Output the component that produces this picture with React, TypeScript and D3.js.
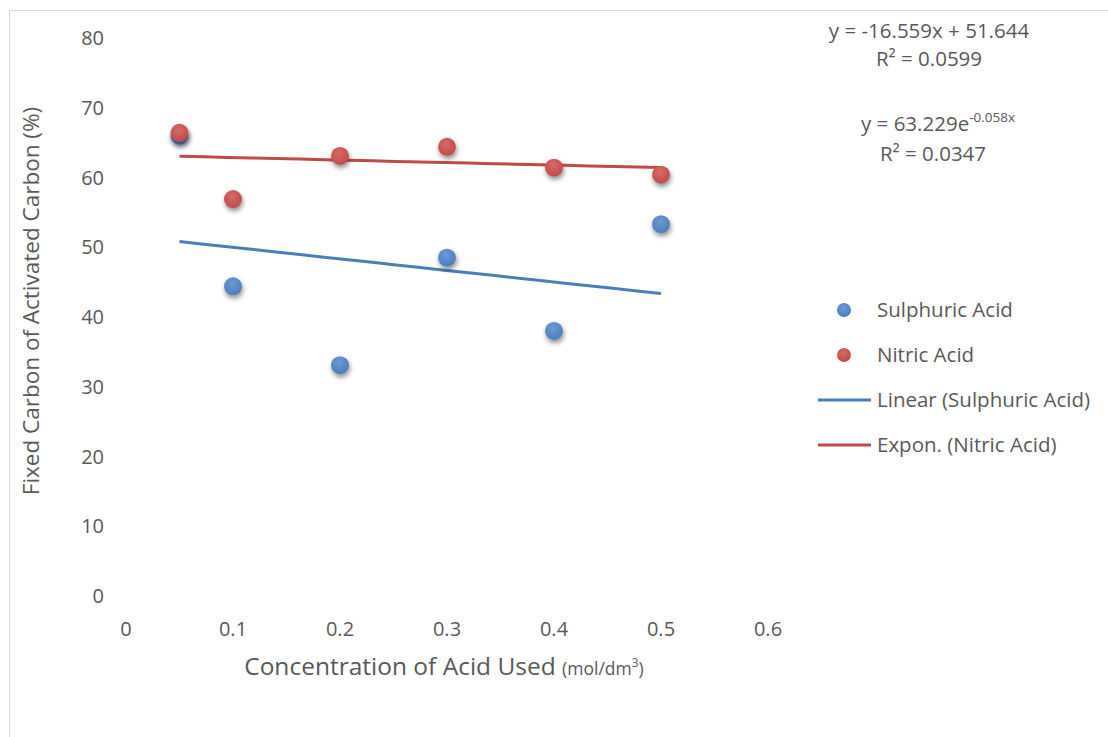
import React, { useEffect, useRef } from 'react';
import * as d3 from 'd3';

// concentrations (mol/dm3)
const concentrations = [0.05, 0.1, 0.2, 0.3, 0.4, 0.5];
const sulphuric = [66.0, 44.4, 33.1, 48.5, 38.0, 53.3];
const nitric = [66.4, 56.9, 63.1, 64.4, 61.4, 60.4];
// trendline coefficients as printed on the chart
const linearFit = { slope: -16.559, intercept: 51.644, r2: '0.0599' };
const expFit = { a: 63.229, b: -0.058, r2: '0.0347' };
const xTicks = [0, 0.1, 0.2, 0.3, 0.4, 0.5, 0.6];
const yTicks = [0, 10, 20, 30, 40, 50, 60, 70, 80];

const blue = '#4a7ebb';
const red = '#be4b48';
const textColor = '#595959';
const font = 'Open Sans, Noto Sans, sans-serif';

const W = 1108;
const H = 737;

export default function App() {
  const ref = useRef<SVGSVGElement>(null);

  useEffect(() => {
    const svg = d3.select(ref.current);
    svg.selectAll('*').remove();

    const x = d3.scaleLinear().domain([0, 0.6]).range([126, 768]);
    const y = d3.scaleLinear().domain([0, 80]).range([596, 38]);

    const defs = svg.append('defs');
    const f = defs.append('filter').attr('id', 'shadow')
      .attr('x', '-60%').attr('y', '-60%').attr('width', '220%').attr('height', '220%');
    f.append('feDropShadow').attr('dx', 1).attr('dy', 3).attr('stdDeviation', 2.5)
      .attr('flood-color', '#000').attr('flood-opacity', 0.45);

    [['g-blue', blue, '#6b9bd8'], ['g-red', red, '#d86a66']].forEach(([id, c, hi]) => {
      const g = defs.append('radialGradient').attr('id', id)
        .attr('cx', '45%').attr('cy', '35%').attr('r', '65%');
      g.append('stop').attr('offset', '0%').attr('stop-color', hi);
      g.append('stop').attr('offset', '100%').attr('stop-color', c);
    });

    // chart border
    svg.append('rect').attr('x', 9.5).attr('y', 10.5).attr('width', W + 20).attr('height', H + 20)
      .attr('fill', '#fff').attr('stroke', '#d9d9d9');

    // y ticks
    svg.append('g').selectAll('text').data(yTicks).enter().append('text')
      .attr('x', 104).attr('y', d => y(d)).attr('dy', '0.35em')
      .attr('text-anchor', 'end').attr('font-size', 20).attr('font-family', font)
      .attr('fill', textColor).text(d => d);

    // x ticks
    svg.append('g').selectAll('text').data(xTicks).enter().append('text')
      .attr('x', d => x(d)).attr('y', 629).attr('dy', '0.35em')
      .attr('text-anchor', 'middle').attr('font-size', 20).attr('font-family', font)
      .attr('fill', textColor).text(d => (d === 0 ? '0' : d3.format('.1f')(d)));

    // axis titles
    svg.append('text')
      .attr('transform', 'translate(39,301) rotate(-90)')
      .attr('text-anchor', 'middle').attr('font-size', 22.5).attr('font-family', font)
      .attr('fill', textColor).text('Fixed Carbon of Activated Carbon (%)');

    const xt = svg.append('text').attr('x', 444).attr('y', 675)
      .attr('text-anchor', 'middle').attr('font-family', font).attr('fill', textColor);
    xt.append('tspan').attr('font-size', 24.5).text('Concentration of Acid Used ');
    xt.append('tspan').attr('font-size', 17.5).text('(mol/dm');
    xt.append('tspan').attr('font-size', 12).attr('dy', -8).text('3');
    xt.append('tspan').attr('font-size', 17.5).attr('dy', 8).text(')');

    const x0 = concentrations[0];
    const x1 = concentrations[concentrations.length - 1];
    const xs = d3.range(0, 21).map(i => x0 + (x1 - x0) * i / 20);

    // trendlines
    const line = d3.line<number>().x(d => x(d));
    svg.append('path')
      .attr('d', line.y(d => y(linearFit.slope * d + linearFit.intercept))(xs))
      .attr('fill', 'none').attr('stroke', blue).attr('stroke-width', 3);
    svg.append('path')
      .attr('d', line.y(d => y(expFit.a * Math.exp(expFit.b * d)))(xs))
      .attr('fill', 'none').attr('stroke', red).attr('stroke-width', 3);

    // points
    const drawPts = (vals: number[], grad: string) => {
      svg.append('g').selectAll('circle').data(vals).enter().append('circle')
        .attr('cx', (d, i) => x(concentrations[i])).attr('cy', d => y(d)).attr('r', 9)
        .attr('fill', `url(#${grad})`).attr('filter', 'url(#shadow)');
    };
    drawPts(sulphuric, 'g-blue');
    drawPts(nitric, 'g-red');

    // equations
    const eq = svg.append('g').attr('font-family', font).attr('font-size', 20.5)
      .attr('fill', textColor).attr('text-anchor', 'middle');
    eq.append('text').attr('x', 929).attr('y', 38)
      .text(`y = ${linearFit.slope}x + ${linearFit.intercept}`);
    eq.append('text').attr('x', 929).attr('y', 66).text('R² = ' + linearFit.r2);
    const e2 = eq.append('text').attr('x', 938).attr('y', 131);
    e2.append('tspan').text(`y = ${expFit.a}e`);
    e2.append('tspan').attr('font-size', 13.5).attr('dy', -9).text(`${expFit.b}x`);
    eq.append('text').attr('x', 933).attr('y', 161).text('R² = ' + expFit.r2);

    // legend
    const lg = svg.append('g').attr('font-family', font).attr('font-size', 20.5).attr('fill', textColor);
    const items = [
      { label: 'Sulphuric Acid', color: blue, grad: 'g-blue', kind: 'pt', yy: 310 },
      { label: 'Nitric Acid', color: red, grad: 'g-red', kind: 'pt', yy: 355 },
      { label: 'Linear (Sulphuric Acid)', color: blue, grad: '', kind: 'ln', yy: 400 },
      { label: 'Expon. (Nitric Acid)', color: red, grad: '', kind: 'ln', yy: 445 },
    ];
    items.forEach(it => {
      if (it.kind === 'pt') {
        lg.append('circle').attr('cx', 844).attr('cy', it.yy).attr('r', 7)
          .attr('fill', `url(#${it.grad})`);
      } else {
        lg.append('line').attr('x1', 818).attr('x2', 871).attr('y1', it.yy).attr('y2', it.yy)
          .attr('stroke', it.color).attr('stroke-width', 3);
      }
      lg.append('text').attr('x', 877).attr('y', it.yy).attr('dy', '0.35em').text(it.label);
    });
  }, []);

  return (
    <svg ref={ref} width={W} height={H}
      style={{ position: 'absolute', left: 0, top: 0, display: 'block' }} />
  );
}
